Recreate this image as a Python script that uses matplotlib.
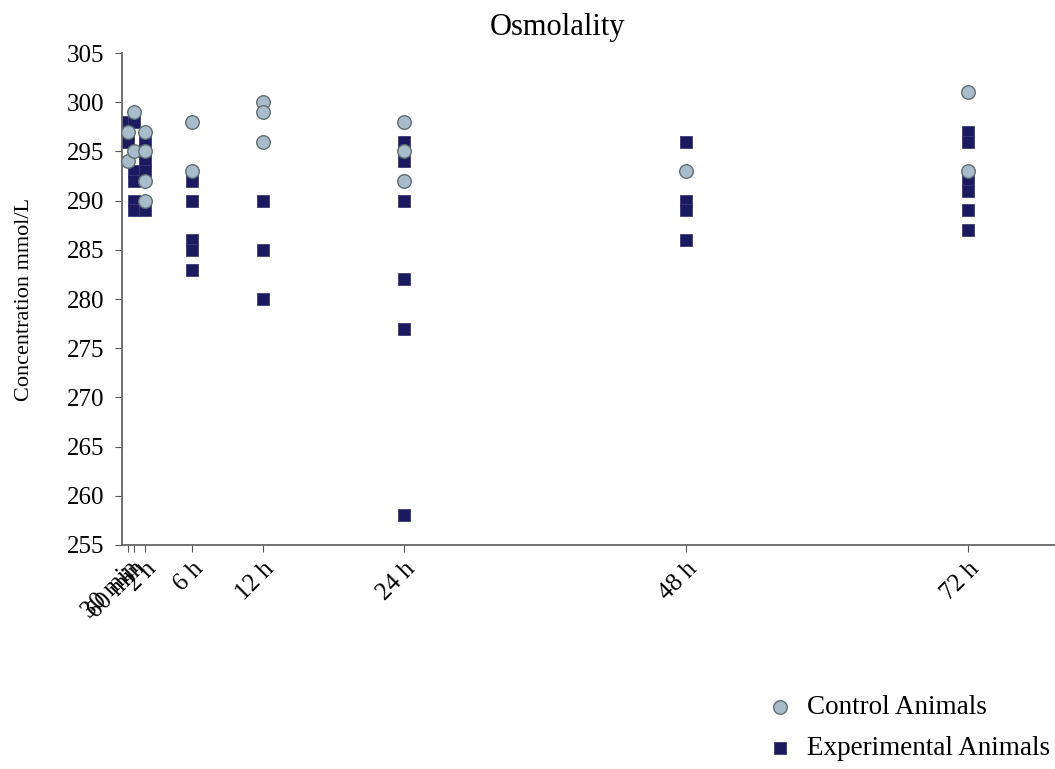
import numpy as np
import matplotlib.pyplot as plt

plt.rcParams['font.family'] = ['Liberation Serif', 'DejaVu Serif']

# sampling times in hours and their tick labels
times = [0.5, 1, 2, 6, 12, 24, 48, 72]
time_labels = ["30 min", "60 min", "2 h", "6 h", "12 h", "24 h", "48 h", "72 h"]

# osmolality readings (mmol/L) per time point
control = [
    [297, 294],
    [299, 295],
    [297, 295, 292, 290],
    [298, 293],
    [300, 299, 296],
    [298, 295, 292],
    [293],
    [301, 293],
]
experimental = [
    [298, 297, 296],
    [298, 293, 292, 290, 289],
    [296, 294, 293, 289],
    [292, 290, 286, 285, 283],
    [290, 285, 280],
    [296, 294, 290, 282, 277, 258],
    [296, 290, 289, 286],
    [297, 296, 292, 291, 289, 287],
]


def flatten(groups):
    xs, ys = [], []
    for t, vals in zip(times, groups):
        xs += [t] * len(vals)
        ys += vals
    return xs, ys


def plot_osmolality():
    fig = plt.figure(figsize=(10.55, 7.69), dpi=100)
    ax = fig.add_axes([0.1156, 0.2913, 0.8844, 0.6397])

    ex, ey = flatten(experimental)
    cx, cy = flatten(control)
    ax.scatter(ex, ey, marker="s", s=65, color="#1c1a5e", edgecolors="#3c3a78",
               linewidths=0.6, zorder=2, label="Experimental Animals")
    ax.scatter(cx, cy, marker="o", s=95, color="#a8bccb", edgecolors="#5f6e72",
               linewidths=1.0, zorder=3, label="Control Animals")

    ax.set_xlim(0, 79.4)
    ax.set_ylim(255, 305)
    ax.set_yticks(np.arange(255, 306, 5))
    ax.set_xticks(times)
    ax.set_xticklabels(time_labels, rotation=45, ha="right", rotation_mode="anchor")
    ax.tick_params(axis="both", labelsize=18, color="#555555", length=5)
    ax.tick_params(axis="y", pad=8)
    ax.tick_params(axis="x", pad=4)

    for side in ["top", "right"]:
        ax.spines[side].set_visible(False)
    for side in ["left", "bottom"]:
        ax.spines[side].set_color("#666666")
        ax.spines[side].set_linewidth(1.3)

    ax.set_ylabel("Concentration mmol/L", fontsize=16)
    ax.yaxis.set_label_coords(-0.094, 0.5)
    fig.text(0.528, 1 - 27 / 769, "Osmolality", fontsize=22, ha="center", va="center")

    handles, labels = ax.get_legend_handles_labels()
    fig.legend(handles[::-1], labels[::-1], loc="upper left",
               bbox_to_anchor=(766 / 1055, 1 - 695 / 769), borderaxespad=0,
               borderpad=0, frameon=False, fontsize=19.5, handlelength=1.0,
               handletextpad=0.5, labelspacing=0.6)

    fig.savefig("out.png", dpi=100)


if __name__ == "__main__":
    plot_osmolality()
